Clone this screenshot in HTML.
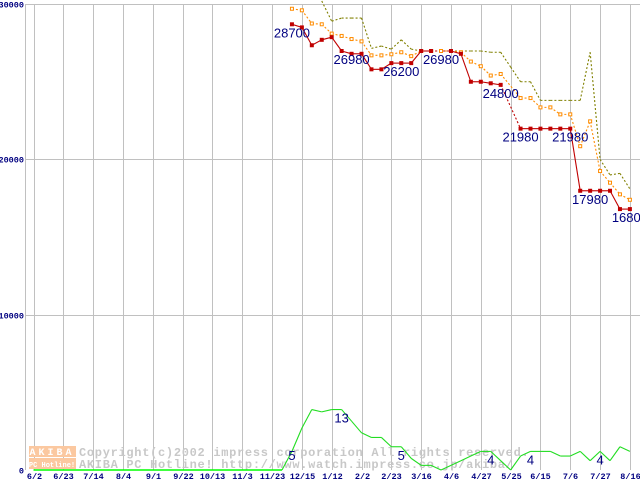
<!DOCTYPE html>
<html><head><meta charset="utf-8"><style>
html,body{margin:0;padding:0;background:#fff;}
svg{display:block;}
text{font-family:"Liberation Mono",monospace;}
</style></head><body>
<svg id="chart" width="640" height="480" viewBox="0 0 640 480" xmlns="http://www.w3.org/2000/svg">
<g id="grid"></g>
<g id="watermark">
  <rect x="29" y="446" width="47" height="11" fill="#fbc8a0"/>
  <rect x="29" y="458" width="47" height="11" fill="#fbc8a0"/>
  <text x="52" y="455" font-size="10" font-weight="bold" fill="#fff" text-anchor="middle" letter-spacing="3">AKIBA</text>
  <text x="52" y="467" font-size="7" font-weight="bold" fill="#fff" text-anchor="middle">PC Hotline!</text>
  <text x="79" y="456" font-size="12" font-weight="bold" fill="#c8c8c8" letter-spacing="0.7">Copyright(c)2002 impress corporation All rights reserved.</text>
  <text x="79" y="468" font-size="12" font-weight="bold" fill="#c8c8c8" letter-spacing="0.7">AKIBA PC Hotline!  http://www.watch.impress.co.jp/akiba/</text>
</g>
<g id="series"></g>
<g id="labels"></g>
</svg>
<script>
const xLabels = ["6/2","6/23","7/14","8/4","9/1","9/22","10/13","11/3","11/23","12/15","1/12","2/2","2/23","3/16","4/6","4/27","5/25","6/15","7/6","7/27","8/16"];
const yTicks = [0,10000,20000,30000];
const weeks = [26,27,28,29,30,31,32,33,34,35,36,37,38,39,40,41,42,43,44,45,46,47,48,49,50,51,52,53,54,55,56,57,58,59,60];
const minPrice = [28700,28500,27350,27700,27870,26980,26800,26800,25800,25800,26200,26200,26200,26980,26980,null,26980,26800,25000,25000,24900,24800,null,21980,21980,21980,21980,21980,21980,17980,17980,17980,17980,16800,16800];
const avgPrice = [29700,29600,28750,28700,28100,27950,27750,27600,26700,26700,26770,26900,26650,26980,26980,26980,26980,26900,26300,26000,25400,25500,null,23950,23950,23350,23350,22900,22900,20850,22450,19250,18500,17750,17400];
const maxPrice = [null,null,null,30200,28900,29100,29100,29100,27150,27300,27100,27700,27100,26980,26980,26980,26980,26980,26980,26980,26900,26900,25950,25000,25000,23800,23800,23800,23800,23800,26900,20000,19000,19100,18100];
const shopCount = [4,9,13,12.5,13,13,10.5,8,7,7,5,5,2.5,1,1,0,1,2,3,4,4,2,0,3,4,4,4,3,3,4,2,4,2,5,4];
const zeroWeeks = [0,25];
const priceLabels = [["28700",26],["26980",32],["26200",37],["26980",41],["24800",47],["21980",49],["21980",54],["17980",56],["16800",60]];
const priceLabelValues = [28700,26980,26200,26980,24800,21980,21980,17980,16800];
const countLabels = [["5",26,5],["13",31,13],["5",37,5],["4",46,4],["4",50,4],["4",57,4]];

const NS="http://www.w3.org/2000/svg";
function x(i){return 33.5+9.94*i;}
function y(v){return 470-v*0.01553;}
function yc(v){return 470-v*4.65;}
function mk(tag,attrs,parent){const e=document.createElementNS(NS,tag);for(const k in attrs)e.setAttribute(k,attrs[k]);parent.appendChild(e);return e;}

const grid=document.getElementById('grid');
const vl=mk('line',{x1:25.5,y1:4.5,x2:25.5,y2:470,stroke:'#c0c0c0'},grid);


xLabels.forEach((l,k)=>{
  const xx=Math.round(x(k*3))+0.5;
  const g=mk('line',{x1:xx,y1:4.5,x2:xx,y2:470,stroke:'#c0c0c0'},grid);
  
  
  const t=mk('text',{x:xx,y:479,'font-size':8.5,'font-weight':'bold',fill:'#000080','text-anchor':'middle'},grid);
  t.textContent=l;
  
  
});
yTicks.forEach(v=>{
  const yy=Math.round(y(v))+0.5;
  if(v>0){
    const g=mk('line',{x1:25,y1:yy,x2:640,y2:yy,stroke:'#c0c0c0'},grid);
    
    
  }
  const t=mk('text',{x:24,y:yy+3,'font-size':8.5,'font-weight':'bold',fill:'#000080','text-anchor':'end'},grid);
  t.textContent=String(v);
  
  
});

const series=document.getElementById('series');
function drawLine(vals,yf,color,dash,name){
  let prev=null;
  vals.forEach((v,j)=>{
    if(v===null)return;
    if(prev!==null){
      const gap=j-prev>1;
      const a={x1:x(weeks[prev]),y1:yf(vals[prev]),x2:x(weeks[j]),y2:yf(v),stroke:color,'stroke-width':1.1};
      if(dash||gap)a['stroke-dasharray']='2,2';
      const l=mk('line',a,series);
      
      
    }
    prev=j;
  });
}
const zl=mk('line',{x1:x(zeroWeeks[0]),y1:yc(0),x2:x(zeroWeeks[1]),y2:yc(0),stroke:'#00ff00','stroke-width':1.5},series);


const cl=mk('line',{x1:x(zeroWeeks[1]),y1:yc(0),x2:x(weeks[0]),y2:yc(shopCount[0]),stroke:'#22dd22','stroke-width':1.1},series);


drawLine(shopCount,yc,'#22dd22',false,'count');
drawLine(maxPrice,y,'#808000',true,'max-price');
drawLine(avgPrice,y,'#ff8c00',true,'avg-price');
drawLine(minPrice,y,'#c00000',false,'min-price');
avgPrice.forEach((v,j)=>{
  if(v===null)return;
  const r=mk('rect',{x:x(weeks[j])-1.5,y:y(v)-1.5,width:3,height:3,fill:'#fff',stroke:'#ff8c00','stroke-width':1},series);
  
  
});
minPrice.forEach((v,j)=>{
  if(v===null)return;
  const r=mk('rect',{x:x(weeks[j])-2,y:y(v)-2,width:4,height:4,fill:'#c00000'},series);
  
  
});

const labels=document.getElementById('labels');
priceLabels.forEach((p,k)=>{
  const t=mk('text',{x:x(p[1]),y:y(priceLabelValues[k])+13,'font-size':13,fill:'#000080','text-anchor':'middle',style:'font-family:"Liberation Sans",sans-serif'},labels);
  t.textContent=p[0];
  
  
});
countLabels.forEach(c=>{
  const t=mk('text',{x:x(c[1]),y:yc(c[2])+13,'font-size':13,fill:'#000080','text-anchor':'middle',style:'font-family:"Liberation Sans",sans-serif'},labels);
  t.textContent=c[0];
  
  
});
</script>
</body></html>
